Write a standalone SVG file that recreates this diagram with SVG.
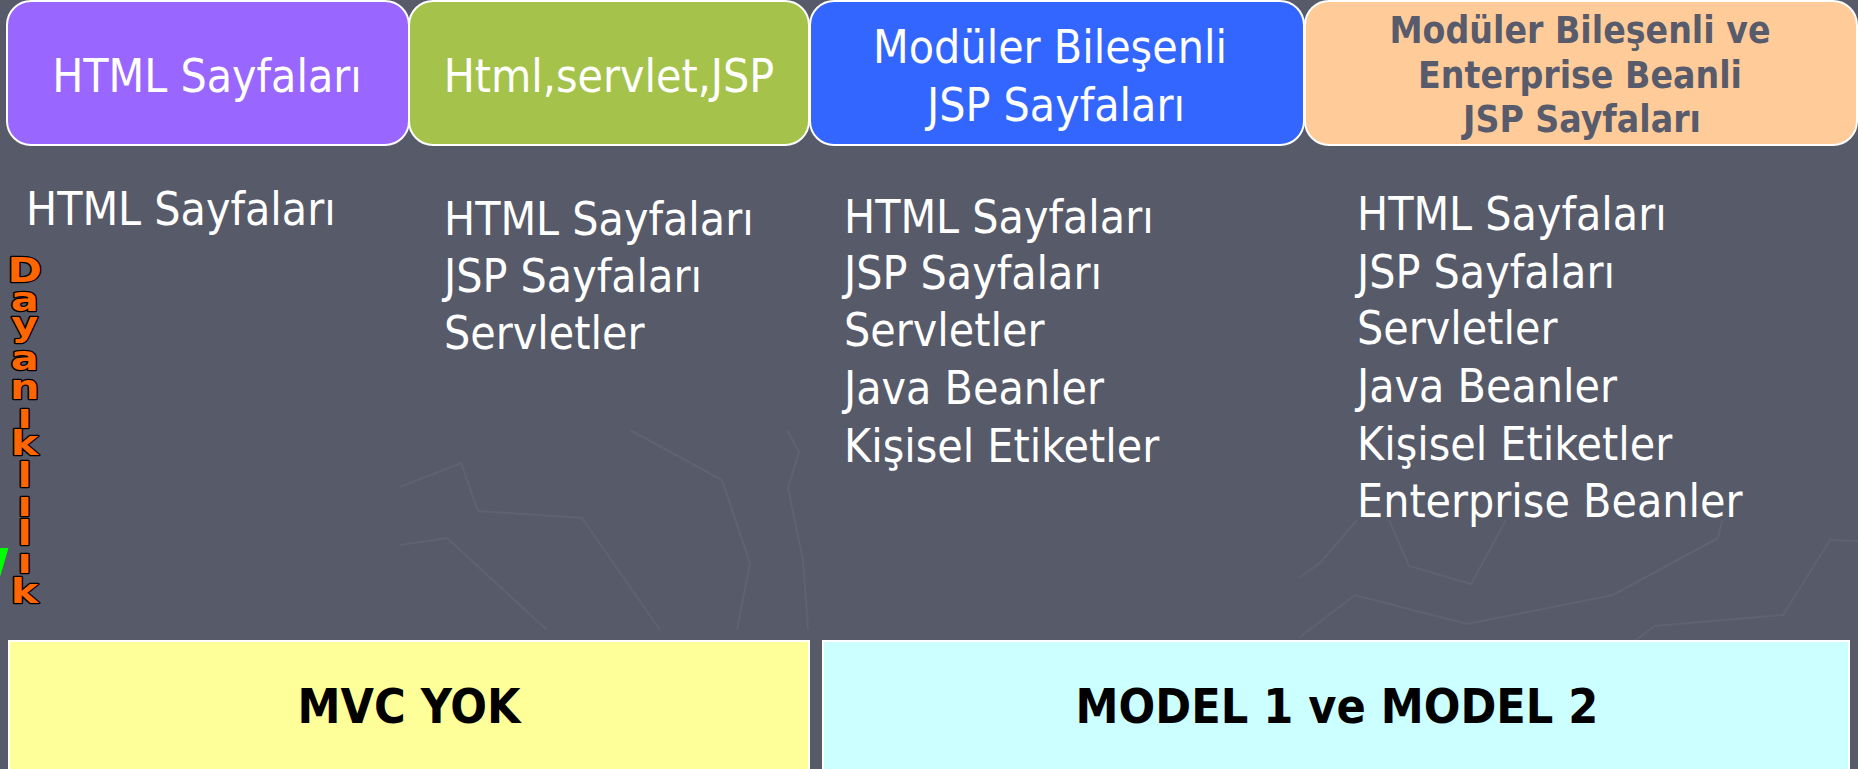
<svg xmlns="http://www.w3.org/2000/svg" width="1858" height="769" viewBox="0 0 1858 769">
<style>
.bg{fill:#575A69}
.deco{fill:none;stroke:#5F6271;stroke-width:2}
.box{stroke:#FFFFFF;stroke-width:2}
.t{font-family:"DejaVu Sans Condensed","DejaVu Sans",sans-serif;font-stretch:condensed;font-size:46px;fill:#FFFFFF}
.c{text-anchor:middle}
.b4{font-family:"DejaVu Sans Condensed","DejaVu Sans",sans-serif;font-stretch:condensed;font-weight:bold;font-size:37px;fill:#585B6B;text-anchor:middle}
.bot{font-family:"DejaVu Sans Condensed","DejaVu Sans",sans-serif;font-stretch:condensed;font-weight:bold;font-size:48px;fill:#000000;text-anchor:middle}
.v{font-family:"DejaVu Sans","Liberation Sans",sans-serif;font-weight:bold;font-size:34px;fill:#FF6600;stroke:#000000;stroke-width:2.4;paint-order:stroke;stroke-linejoin:round;text-anchor:middle}
</style>
<rect class="bg" x="0" y="0" width="1858" height="769"/>
<g id="background">
<polyline class="deco" points="400,487 461,463 478,511 582,518 660,630"/>
<polyline class="deco" points="400,545 447,538 547,630"/>
<polyline class="deco" points="630,430 722,480 750,563 737,630"/>
<polyline class="deco" points="787,430 799,452 788,488 803,560 808,630"/>
<polyline class="deco" points="1300,577 1320,563 1357,520"/>
<polyline class="deco" points="1389,520 1409,566 1471,584 1506,520"/>
<polyline class="deco" points="1300,637 1355,595 1467,624 1613,595 1718,538 1722,520"/>
<polyline class="deco" points="1626,648 1654,626 1783,615 1830,540 1858,541"/>
</g>
<g id="head1">
<rect class="box" x="7" y="1" width="402" height="144" rx="24" fill="#9966FF"/>
<text class="t c" x="207" y="92">HTML Sayfaları</text>
</g>
<g id="head2">
<rect class="box" x="409" y="1" width="400" height="144" rx="24" fill="#A5C24A"/>
<text class="t c" x="609" y="92">Html,servlet,JSP</text>
</g>
<g id="head3">
<rect class="box" x="810" y="1" width="494" height="144" rx="24" fill="#3366FF"/>
<text class="t c" x="1050" y="63">Modüler Bileşenli</text>
<text class="t c" x="1056" y="121">JSP Sayfaları</text>
</g>
<g id="head4">
<rect class="box" x="1305" y="1" width="552" height="144" rx="24" fill="#FFCC99"/>
<text class="b4" x="1580" y="43">Modüler Bileşenli ve</text>
<text class="b4" x="1580" y="88">Enterprise Beanli</text>
<text class="b4" x="1582" y="132">JSP Sayfaları</text>
</g>
<g id="col1">
<text class="t" x="26" y="225">HTML Sayfaları</text>
</g>
<g id="col2">
<text class="t" x="444" y="235">HTML Sayfaları</text>
<text class="t" x="444" y="292">JSP Sayfaları</text>
<text class="t" x="444" y="349">Servletler</text>
</g>
<g id="col3">
<text class="t" x="844" y="233">HTML Sayfaları</text>
<text class="t" x="844" y="289">JSP Sayfaları</text>
<text class="t" x="844" y="346">Servletler</text>
<text class="t" x="844" y="404">Java Beanler</text>
<text class="t" x="844" y="462">Kişisel Etiketler</text>
</g>
<g id="col4">
<text class="t" x="1357" y="230">HTML Sayfaları</text>
<text class="t" x="1357" y="288">JSP Sayfaları</text>
<text class="t" x="1357" y="344">Servletler</text>
<text class="t" x="1357" y="402">Java Beanler</text>
<text class="t" x="1357" y="460">Kişisel Etiketler</text>
<text class="t" x="1357" y="517">Enterprise Beanler</text>
</g>
<g id="dayaniklilik">
<polygon points="0,548 8.5,548 0,577" fill="#00FF00"/>
<text class="v" transform="scale(1.22,1)"><tspan x="20.2" y="282">D</tspan><tspan x="20.2" y="311">a</tspan><tspan x="20.2" y="336">y</tspan><tspan x="20.2" y="370">a</tspan><tspan x="20.2" y="399">n</tspan><tspan x="20.2" y="428">ı</tspan><tspan x="20.2" y="455">k</tspan><tspan x="20.2" y="487">l</tspan><tspan x="20.2" y="516">ı</tspan><tspan x="20.2" y="545">l</tspan><tspan x="20.2" y="573">ı</tspan><tspan x="20.2" y="603">k</tspan></text>
</g>
<g id="mvc-yok">
<rect class="box" x="9" y="641" width="800" height="130" fill="#FFFF99"/>
<text class="bot" x="409" y="723">MVC YOK</text>
</g>
<g id="model12">
<rect class="box" x="823" y="641" width="1026" height="130" fill="#CCFFFF"/>
<text class="bot" x="1337" y="723">MODEL 1 ve MODEL 2</text>
</g>
</svg>
